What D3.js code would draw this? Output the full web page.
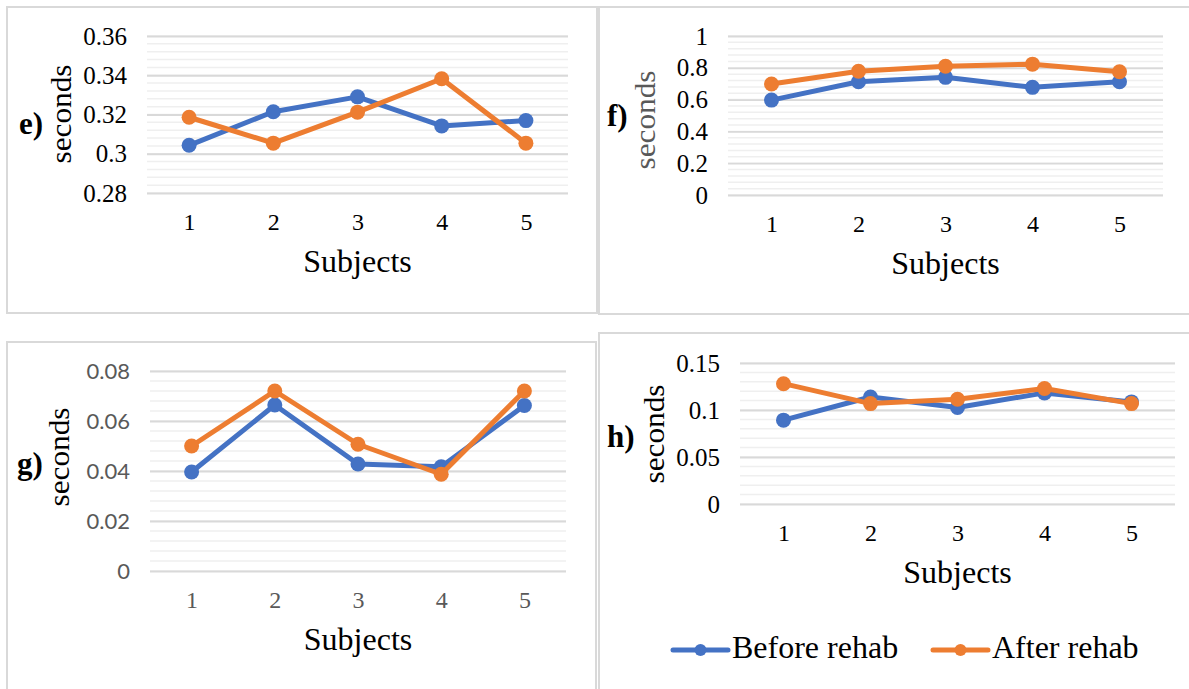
<!DOCTYPE html>
<html>
<head>
<meta charset="utf-8">
<script src="https://cdn.jsdelivr.net/npm/d3@7"></script>
<style>
  body { margin: 0; background: #fff; }
</style>
</head>
<body>
<svg id="drawing"></svg>
<script>
// data
const subjects = [1, 2, 3, 4, 5];
const series_names = ['Before rehab', 'After rehab'];
const series_colors = ['#4472C4', '#ED7D31'];

const before_e = [0.3043, 0.3214, 0.3290, 0.3142, 0.3169];
const after_e  = [0.3186, 0.3054, 0.3212, 0.3382, 0.3054];
const ticks_e  = [0.28, 0.30, 0.32, 0.34, 0.36];

const before_f = [0.597, 0.712, 0.740, 0.677, 0.712];
const after_f  = [0.698, 0.778, 0.810, 0.823, 0.775];
const ticks_f  = [0, 0.2, 0.4, 0.6, 0.8, 1];

const before_g = [0.0396, 0.0664, 0.0428, 0.0417, 0.0662];
const after_g  = [0.0500, 0.0720, 0.0507, 0.0387, 0.0720];
const ticks_g  = [0, 0.02, 0.04, 0.06, 0.08];

const before_h = [0.0892, 0.1138, 0.1027, 0.1182, 0.1086];
const after_h  = [0.1280, 0.1068, 0.1114, 0.1228, 0.1068];
const ticks_h  = [0, 0.05, 0.1, 0.15];

const SERIF = 'Liberation Serif, Times New Roman, serif';
const SANS = 'Lato, Liberation Sans, sans-serif';

const svg = d3.select('#drawing')
    .attr('width', 1189)
    .attr('height', 689)
    .attr('font-family', SERIF);

class LinePanel {
    constructor(config, before, after, ticks) {
        this.config = config;
        this.before = before;
        this.after = after;
        this.ticks = ticks;
    }

    init() {
        let self = this;
        const c = self.config;

        // panel frame
        svg.append('rect')
            .attr('x', c.frame[0]).attr('y', c.frame[1])
            .attr('width', c.frame[2]).attr('height', c.frame[3])
            .attr('fill', 'none')
            .attr('stroke', '#d9d9d9')
            .attr('stroke-width', 2);

        self.xscale = d3.scalePoint()
            .domain(subjects)
            .range([c.left, c.right])
            .padding(0.5);

        self.yscale = d3.scaleLinear()
            .domain([self.ticks[0], self.ticks[self.ticks.length - 1]])
            .range([c.bottom, c.top]);

        self.chart = svg.append('g');
        self.render();
    }

    render() {
        let self = this;
        const c = self.config;
        const ext = self.yscale.domain();

        // minor gridlines
        const minor = d3.range(ext[0], ext[1] + c.minor / 2, c.minor);
        self.chart.append('g').selectAll('line')
            .data(minor)
            .join('line')
            .attr('x1', c.left).attr('x2', c.right)
            .attr('y1', d => self.yscale(d)).attr('y2', d => self.yscale(d))
            .attr('stroke', '#efefef')
            .attr('stroke-width', 1.5);

        // major gridlines + tick labels via axis
        const yaxis = d3.axisLeft(self.yscale)
            .tickValues(self.ticks)
            .tickSize(-(c.right - c.left))
            .tickPadding(20)
            .tickFormat(d => String(+d.toFixed(4)));

        const yg = self.chart.append('g')
            .attr('transform', `translate(${c.left},0)`)
            .call(yaxis)
            .attr('font-family', c.ytickFont)
            .attr('font-size', c.ytickSize);
        yg.select('.domain').remove();
        yg.selectAll('.tick line')
            .attr('stroke', '#d9d9d9')
            .attr('stroke-width', 1.8);
        yg.selectAll('.tick text')
            .attr('fill', c.ytickColor);

        const xaxis = d3.axisBottom(self.xscale)
            .tickSize(0)
            .tickPadding(20);
        const xg = self.chart.append('g')
            .attr('transform', `translate(0,${c.bottom})`)
            .call(xaxis)
            .attr('font-family', SERIF)
            .attr('font-size', 24);
        xg.select('.domain').remove();
        xg.selectAll('.tick text')
            .attr('fill', c.xtickColor);

        // series
        const line = d3.line()
            .x((d, i) => self.xscale(subjects[i]))
            .y(d => self.yscale(d));

        [self.before, self.after].forEach((vals, k) => {
            self.chart.append('path')
                .datum(vals)
                .attr('d', line)
                .attr('fill', 'none')
                .attr('stroke', series_colors[k])
                .attr('stroke-width', 5)
                .attr('stroke-linejoin', 'round');
            self.chart.append('g').selectAll('circle')
                .data(vals)
                .join('circle')
                .attr('cx', (d, i) => self.xscale(subjects[i]))
                .attr('cy', d => self.yscale(d))
                .attr('r', 7.5)
                .attr('fill', series_colors[k]);
        });

        // axis titles
        self.chart.append('text')
            .attr('x', (c.left + c.right) / 2)
            .attr('y', c.bottom + 79)
            .attr('text-anchor', 'middle')
            .attr('font-family', SERIF)
            .attr('font-size', 32)
            .text('Subjects');

        self.chart.append('text')
            .attr('transform', `translate(${c.secX},${c.secY}) rotate(-90)`)
            .attr('text-anchor', 'middle')
            .attr('fill', c.secColor)
            .attr('font-family', SERIF)
            .attr('font-size', 29)
            .attr('textLength', 99)
            .attr('lengthAdjust', 'spacingAndGlyphs')
            .text('seconds');

        // panel letter
        self.chart.append('text')
            .attr('x', c.tag[1])
            .attr('y', c.tag[2])
            .attr('font-family', SERIF)
            .attr('font-size', 31)
            .attr('font-weight', 'bold')
            .text(c.tag[0]);
    }
}

const panels = [
    new LinePanel({
        frame: [7, 7, 590, 306], left: 147, right: 568, top: 36, bottom: 193, minor: 0.004,
        ytickColor: '#000', ytickFont: SERIF, ytickSize: 25, xtickColor: '#000',
        secX: 71, secY: 114, secColor: '#000', tag: ['e)', 19, 134]
    }, before_e, after_e, ticks_e),
    new LinePanel({
        frame: [599, 7, 600, 307], left: 728, right: 1163, top: 36, bottom: 195, minor: 0.04,
        ytickColor: '#000', ytickFont: SERIF, ytickSize: 25, xtickColor: '#000',
        secX: 655, secY: 120, secColor: '#595959', tag: ['f)', 607, 126]
    }, before_f, after_f, ticks_f),
    new LinePanel({
        frame: [7, 342, 589, 400], left: 150, right: 566, top: 371, bottom: 571, minor: 0.004,
        ytickColor: '#595959', ytickFont: SANS, ytickSize: 22, xtickColor: '#595959',
        secX: 69, secY: 457, secColor: '#000', tag: ['g)', 17, 474]
    }, before_g, after_g, ticks_g),
    new LinePanel({
        frame: [599, 333, 600, 400], left: 740, right: 1175, top: 363, bottom: 504, minor: 0.01,
        ytickColor: '#000', ytickFont: SERIF, ytickSize: 25, xtickColor: '#000',
        secX: 664, secY: 434, secColor: '#000', tag: ['h)', 607, 447]
    }, before_h, after_h, ticks_h)
];
panels.forEach(p => p.init());

// legend (inside panel h)
const legend = svg.append('g');
const legend_x = [673, 933];
series_names.forEach((name, k) => {
    const x0 = legend_x[k];
    legend.append('line')
        .attr('x1', x0).attr('x2', x0 + 55)
        .attr('y1', 650).attr('y2', 650)
        .attr('stroke', series_colors[k])
        .attr('stroke-width', 5)
        .attr('stroke-linecap', 'round');
    legend.append('circle')
        .attr('cx', x0 + 27.5).attr('cy', 650)
        .attr('r', 6)
        .attr('fill', series_colors[k]);
    legend.append('text')
        .attr('x', x0 + 59)
        .attr('y', 658)
        .attr('font-family', SERIF)
        .attr('font-size', 32)
        .text(name);
});
</script>
</body>
</html>
